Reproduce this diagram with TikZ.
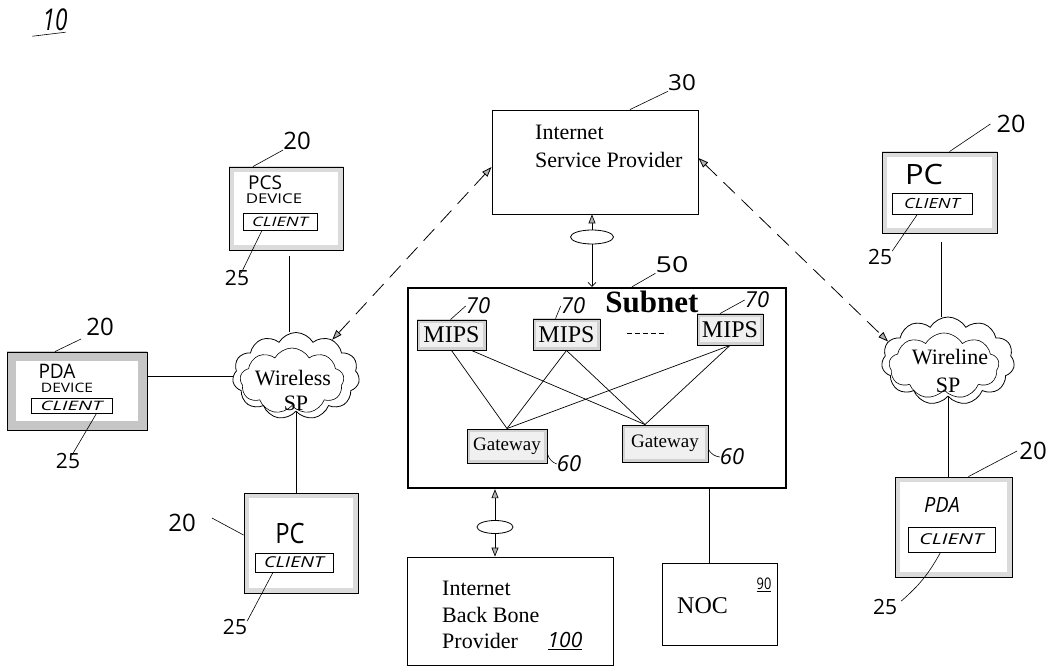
\documentclass[tikz,border=0pt]{standalone}
\usepackage{fontspec}
\setmainfont{Liberation Serif}
\newfontfamily\hand{Open Sans}
\usepackage{graphicx}
\usetikzlibrary{shapes.geometric,shapes.symbols,arrows.meta}
\newcommand\fs[1]{\fontsize{#1}{#1}\selectfont}
\newcommand\hw[3]{{\hand\fs{#1}\scalebox{#2}[1]{#3}}}
\newcommand\hwi[3]{{\hand\itshape\fs{#1}\scalebox{#2}[1]{#3}}}
\begin{document}
\begin{tikzpicture}[x=1pt,y=-1pt,
  box/.style={draw, line width=0.9pt, inner sep=0pt, fill=white},
  dev/.style={box, path picture={\draw[gray!28, line width=#1] (path picture bounding box.south west) rectangle (path picture bounding box.north east);}},
  dev/.default=10pt,
  devd/.style={box, path picture={\draw[gray!45, line width=#1] (path picture bounding box.south west) rectangle (path picture bounding box.north east);}},
  speck/.style={box, fill=gray!12, path picture={\draw[gray!35, line width=6pt] (path picture bounding box.south west) rectangle (path picture bounding box.north east);}},
  cli/.style={draw, line width=0.8pt, inner sep=0pt, fill=white},
  lbl/.style={inner sep=0pt},
  lead/.style={line width=0.6pt},
  link/.style={line width=0.7pt},
  darr/.style={line width=0.8pt, dash pattern=on 16pt off 9pt, arrows={Triangle[length=10pt,width=7pt,fill=gray!60]-Triangle[length=10pt,width=7pt,fill=gray!60]}},
  uarr/.style={line width=0.7pt, arrows={-Triangle[length=9pt,width=7pt,fill=gray!60]}},
  tarr/.style={line width=0.6pt, arrows={-Straight Barb[length=4pt,width=8pt]}},
  cld/.style={cloud, cloud puffs=11, cloud puff arc=120, cloud ignores aspect, draw, line width=0.8pt, inner sep=0pt},
  serif/.style={inner sep=0pt, font=\fs{22}}
]
\useasboundingbox (0,0) rectangle (1050,668);

% figure number
\node[lbl] (l10) at (55,20) {\hwi{30}{0.75}{10}};
\draw[lead] ([xshift=-10pt,yshift=-5pt]l10.south west) -- ([xshift=-2pt,yshift=-1pt]l10.south east);

% Internet Service Provider
\node[box, minimum width=206pt, minimum height=104pt] (isp) at (595,162) {};
\node[serif, anchor=base west] (isp1) at (535,140) {Internet};
\node[serif, anchor=base west] (isp2) at (535,168) {Service Provider};
\node[lbl] (l30) at (682,83) {\hw{22}{1.1}{30}};
\draw[lead] ([xshift=35pt]isp.north) -- (l30.south west);

% Subnet
\node[draw, line width=2.4pt, inner sep=0pt, minimum width=378pt, minimum height=200pt] (subnet) at (597,388) {};
\node[inner sep=0pt, anchor=base, font=\fs{31}\bfseries] (subt) at (652,313) {Subnet};
\node[lbl] (l50) at (672,265) {\hw{22}{1.3}{50}};
\draw[lead] ([xshift=35pt]subnet.north) -- (l50.south west);

\node[speck, minimum width=69pt, minimum height=30pt, font=\fs{24}] (mips1) at (451.5,335) {MIPS};
\node[speck, minimum width=67pt, minimum height=31pt, font=\fs{24}] (mips2) at (566.5,334.5) {MIPS};
\node[speck, minimum width=66pt, minimum height=31pt, font=\fs{24}] (mips3) at (730,329.5) {MIPS};
\node[speck, minimum width=80pt, minimum height=34pt, font=\fs{19}] (g1) at (507,446) {Gateway};
\node[speck, minimum width=86pt, minimum height=37pt, font=\fs{19}] (g2) at (665,443.5) {Gateway};

\coordinate (dA) at (627,333);
\coordinate (dB) at (667,333);
\draw[line width=0.8pt, dash pattern=on 5pt off 3pt] (dA) -- (dB);

\draw[link] (mips1.south) -- (g1.north);
\draw[link] ([xshift=20pt]mips1.south) -- ([xshift=-20pt]g2.north);
\draw[link] (mips2.south) -- (g1.north);
\draw[link] (mips2.south) -- ([xshift=-20pt]g2.north);
\draw[link] (mips3.south) -- (g1.north);
\draw[link] (mips3.south) -- ([xshift=-20pt]g2.north);

\node[lbl] (l70a) at (478,306) {\hwi{22}{1}{70}};
\node[lbl] (l70b) at (573,306) {\hwi{22}{1}{70}};
\node[lbl] (l70c) at (757,300) {\hwi{22}{1}{70}};
\draw[lead] ([xshift=-1pt]mips1.north) -- (l70a.west);
\draw[lead] ([xshift=-11pt]mips2.north) -- (l70b.west);
\draw[lead] ([xshift=-10pt]mips3.north) -- (l70c.west);
\node[lbl] (l60a) at (569,464) {\hwi{22}{1}{60}};
\node[lbl] (l60b) at (732,457) {\hwi{22}{1}{60}};
\draw[lead] ([yshift=-8pt]g1.east) to[bend right=25] (l60a.west);
\draw[lead] ([yshift=-6pt]g2.east) to[bend right=25] (l60b.west);

% ISP <-> Subnet
\node[draw, ellipse, line width=0.8pt, minimum width=43pt, minimum height=14pt, inner sep=0pt] (e1) at (592,237) {};
\draw[uarr] (e1.north) -- (e1.north |- isp.south);
\draw[tarr] (e1.south) -- (e1.south |- subnet.north);

% Subnet <-> Backbone
\node[box, minimum width=206pt, minimum height=108pt] (ibbp) at (510,611) {};
\node[serif, anchor=base west] (ib1) at (442,595) {Internet};
\node[serif, anchor=base west] (ib2) at (442,622) {Back Bone};
\node[serif, anchor=base west] (ib3) at (442,648) {Provider};
\node[lbl] (l100) at (565,641) {\hwi{21}{1}{\underline{100}}};
\node[draw, ellipse, line width=0.8pt, minimum width=36pt, minimum height=13pt, inner sep=0pt] (e2) at (495,527) {};
\draw[uarr] (e2.north) -- (e2.north |- subnet.south);
\draw[uarr] (e2.south) -- (e2.south |- ibbp.north);

% NOC
\node[box, minimum width=115pt, minimum height=82pt] (noc) at (719.5,604) {};
\node[serif, anchor=base west, font=\fs{24}] (noct) at (677,613) {NOC};
\node[lbl] (l90) at (764,585) {\hw{16}{0.8}{\underline{90}}};
\draw[link] ([xshift=-10pt]noc.north) -- ([xshift=-10pt]noc.north |- subnet.south);

% Wireless SP
\node[cld, minimum width=127pt, minimum height=87pt] (wless) at (296,376) {};
\node[cld, cloud puffs=9, line width=0.6pt, minimum width=104pt, minimum height=66pt] (wlessin) at (292,381) {};
\node[serif, anchor=base] (wl1) at (293,385) {Wireless};
\node[serif, anchor=base] (wl2) at (296,410) {SP};

% PCS device
\node[dev, minimum width=114pt, minimum height=83pt] (pcs) at (286,208.5) {};
\node[lbl] (pcs1) at (265,183) {\hw{19}{1}{PCS}};
\node[lbl] (pcs2) at (274,199) {\hw{13.5}{1.25}{DEVICE}};
\node[cli, minimum width=74pt, minimum height=17pt] (clia) at (280,221.5) {\hwi{13}{1.4}{CLIENT}};
\node[lbl] (l20a) at (297,141) {\hw{24}{1}{20}};
\draw[lead] ([xshift=-33pt]pcs.north) -- (l20a.south west);
\node[lbl] (l25a) at (237,278) {\hw{21}{1}{25}};
\draw[lead] ([xshift=-18pt]clia.south) -- ([xshift=-8pt,yshift=-3pt]l25a.north east);
\draw[link] ([xshift=3pt,yshift=-6pt]pcs.south) -- ([xshift=3pt]pcs.south |- wless.north);

% PDA device (left)
\node[devd=18pt, minimum width=140pt, minimum height=78pt] (pdal) at (77,391) {};
\node[lbl] (pdal1) at (57,371) {\hw{20}{0.95}{PDA}};
\node[lbl] (pdal2) at (67,388) {\hw{13}{1.2}{DEVICE}};
\node[cli, minimum width=81pt, minimum height=15pt] (clib) at (71.5,405.5) {\hwi{13}{1.55}{CLIENT}};
\node[lbl] (l20b) at (100,327) {\hw{24}{1}{20}};
\draw[lead] ([xshift=-22pt]pdal.north) -- ([xshift=-5pt,yshift=-3pt]l20b.south west);
\node[lbl] (l25b) at (68,461) {\hw{21}{1}{25}};
\draw[lead] ([xshift=25pt]clib.south) -- ([xshift=4pt,yshift=-2pt]l25b.north);
\draw[link] (wless.west) -- (wless.west -| pdal.east);

% PC (left bottom)
\node[dev, minimum width=114pt, minimum height=100pt] (pcl) at (301,543) {};
\node[lbl] (pcl1) at (290,533) {\hw{28}{0.85}{PC}};
\node[cli, minimum width=78pt, minimum height=19pt] (clic) at (294,562.5) {\hwi{15}{1.3}{CLIENT}};
\node[lbl] (l20c) at (182,523) {\hw{24}{1}{20}};
\draw[lead] ([xshift=16pt,yshift=5pt]l20c.east) -- ([yshift=8pt]pcl.west);
\node[lbl] (l25c) at (235,627) {\hw{21}{1}{25}};
\draw[lead] ([xshift=-21pt]clic.south) -- ([yshift=-2pt]l25c.north east);
\draw[link] (wless.south) -- (wless.south |- pcl.north);

% dashed link wireless <-> ISP
\draw[darr] (wless.45) -- ([yshift=-5pt]isp.west);

% Wireline SP
\node[cld, minimum width=133pt, minimum height=88pt] (wline) at (948,361) {};
\node[cld, cloud puffs=9, line width=0.6pt, minimum width=110pt, minimum height=66pt] (wlinein) at (944,366) {};
\node[serif, anchor=base] (wr1) at (950,365) {Wireline};
\node[serif, anchor=base] (wr2) at (948,392) {SP};

% PC (right)
\node[dev, minimum width=115pt, minimum height=81pt] (pcr) at (939.5,192.5) {};
\node[lbl] (pcr1) at (924,175) {\hw{28}{1.1}{PC}};
\node[cli, minimum width=80pt, minimum height=21pt] (clid) at (932,204) {\hwi{14}{1.3}{CLIENT}};
\node[lbl] (l20d) at (1011,124) {\hw{24}{1.05}{20}};
\draw[lead] ([xshift=10pt]pcr.north) -- ([xshift=-6pt]l20d.west);
\node[lbl] (l25d) at (880,257) {\hw{21}{1}{25}};
\draw[lead] ([xshift=-15pt]clid.south) -- ([yshift=-2pt]l25d.north east);
\draw[link] ([xshift=2pt,yshift=-9pt]pcr.south) -- ([xshift=2pt]pcr.south |- wline.north);

% PDA (right)
\node[dev, minimum width=117pt, minimum height=100pt] (pdar) at (953.5,527) {};
\node[lbl] (pdar1) at (942,505) {\hwi{21}{0.95}{PDA}};
\node[cli, minimum width=87pt, minimum height=25pt] (clie) at (951.5,539.5) {\hwi{15}{1.4}{CLIENT}};
\node[lbl] (l20e) at (1033,451) {\hw{24}{1}{20}};
\draw[lead] ([xshift=15pt]pdar.north) -- ([xshift=-2pt]l20e.west);
\node[lbl] (l25e) at (885,607) {\hw{21}{1}{25}};
\draw[lead] ([xshift=-11pt]clie.south) to[bend left=10] ([xshift=4pt,yshift=-2pt]l25e.north east);
\draw[link] (wline.south) -- (wline.south |- pdar.north);

% dashed link ISP <-> wireline
\draw[darr] ([yshift=4pt]isp.east) -- (wline.162);
\end{tikzpicture}
\end{document}
